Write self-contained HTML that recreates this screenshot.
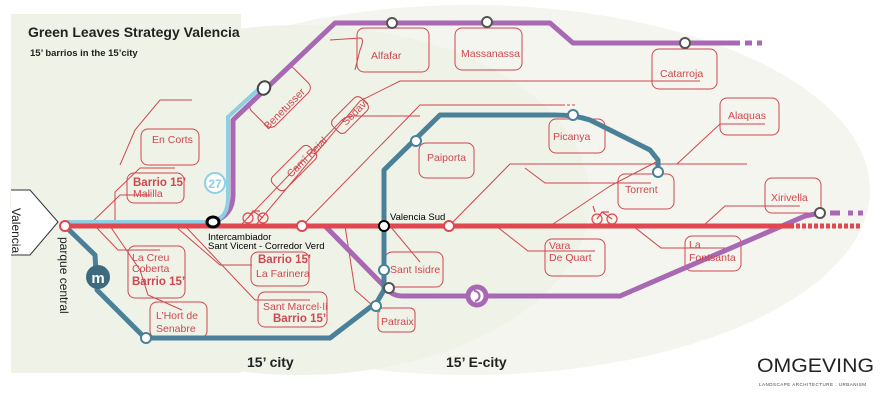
<!DOCTYPE html>
<html><head><meta charset="utf-8"><style>
html,body{margin:0;padding:0;background:#fff;}
svg{display:block;font-family:"Liberation Sans",sans-serif;}
.t{fill:#d0474f;font-size:10.5px;}
.b{fill:#d0474f;font-size:11.5px;font-weight:bold;}
.r{fill:none;stroke:#d0474f;stroke-width:1;}
</style></head><body>
<svg width="889" height="400" viewBox="0 0 889 400">
<ellipse cx="470" cy="190" rx="400" ry="185" fill="#f3f5ee"/>
<ellipse cx="300" cy="200" rx="290" ry="175" fill="#eef2e7"/>
<rect x="11" y="14" width="230" height="359" fill="#eef2e7"/>
<text x="28" y="37" font-size="14" font-weight="bold" fill="#222">Green Leaves Strategy Valencia</text>
<text x="30" y="56" font-size="9.5" font-weight="bold" fill="#222">15’ barrios in the 15’city</text>

<g class="r">
<path d="M302 226 L420 105 L565 105"/><path d="M567 105 L575 105" stroke-dasharray="3 2"/>
<path d="M449 226 L510 164 L747 164"/>
<path d="M240 226 L340 122 Q345 116 355 116 L420 116"/>
<path d="M255 226 L360 101 L400 81 L640 81 L700 81"/>
<path d="M330 40 L360 38 Q365 38 360 50 L355 70"/>
<path d="M550 226 L610 186 L660 160"/>
<path d="M525 168 L545 183 L651 183"/>
<path d="M677 164 L720 124 L765 124"/>
<path d="M496 226 L528 251 L595 251"/>
<path d="M633 226 L661 248 L730 248"/>
<path d="M703 226 L725 206 L800 206"/>
<path d="M88 226 L120 195 L150 195"/><path d="M115 226 L115 192 L140 168 L175 168"/><path d="M120 165 L135 130 L160 100 L192 100"/><path d="M165 100 L192 100" stroke-dasharray="3 2"/>
<path d="M95 226 L118 250 L160 250"/><path d="M110 226 L140 270 L148 295 L182 310"/>
<path d="M185 226 L255 300 L310 300"/><path d="M175 226 L220 265 L252 265"/>
<path d="M345 226 L355 290 L380 312"/>
<path d="M390 226 L420 262"/>
</g>
<g class="r">
<rect x="357" y="28" width="72" height="44" rx="7"/><rect x="455" y="28" width="67" height="42" rx="7"/>
<rect x="652" y="49" width="65" height="40" rx="7"/><rect x="720" y="98" width="59" height="37" rx="7"/>
<rect x="549" y="119" width="56" height="34" rx="7"/><rect x="618" y="174" width="56" height="35" rx="7"/>
<rect x="765" y="178" width="56" height="35" rx="7"/><rect x="419" y="143" width="55" height="35" rx="7"/>
<rect x="545" y="239" width="60" height="37" rx="7"/><rect x="685" y="236" width="56" height="35" rx="7"/>
<rect x="141" y="129" width="58" height="36" rx="7"/><rect x="127" y="173" width="57" height="30" rx="7"/>
<rect x="128" y="246" width="57" height="52" rx="7"/><rect x="150" y="302" width="57" height="36" rx="7"/>
<rect x="251" y="252" width="58" height="34" rx="7"/><rect x="258" y="292" width="69" height="35" rx="7"/>
<rect x="385" y="252" width="58" height="35" rx="7"/><rect x="378" y="308" width="37" height="24" rx="5"/>
<rect x="250" y="80" width="60" height="34" rx="7" transform="rotate(-45 280 97)"/>
<rect x="330" y="106" width="40" height="18" rx="5" transform="rotate(-45 350 115)"/>
<rect x="268" y="159" width="52" height="18" rx="5" transform="rotate(-45 294 168)"/>
</g>

<path d="M65 226 L325 226 L385 287 Q392 296 402 296 L620 296 L805 216 L820 213" fill="none" stroke="#a868b4" stroke-width="5"/>
<path d="M830 213 L840 213 M848 213 L853 213 M858 213 L863 213" stroke="#a868b4" stroke-width="5"/>
<path d="M213 222 Q233 215 233 195 L233 120 L335 23 L550 23 L573 43 L740 43" fill="none" stroke="#a868b4" stroke-width="5" stroke-linejoin="round"/>
<path d="M745 43 L752 43 M757 43 L762 43" stroke="#a868b4" stroke-width="5"/>
<path d="M65 222 L210 222 Q227 220 228 200 L228 117 L262 86" fill="none" stroke="#8fcfe3" stroke-width="4"/>
<path d="M65 226 L790 226" stroke="#e0474f" stroke-width="5"/>
<path d="M790 226 L862 226" stroke="#e0474f" stroke-width="5" stroke-dasharray="4 2"/>
<path d="M65 226 L95 255 L97 290 L145 338 L330 338 L377 302 L384 290 L384 170 L440 115 L555 115 Q575 115 590 120 L650 150 L658 160 L658 172" fill="none" stroke="#4a8199" stroke-width="5" stroke-linejoin="round"/>

<g stroke-width="2" fill="#fff">
<circle cx="65" cy="226" r="5" stroke="#e0474f"/><circle cx="302" cy="226" r="5" stroke="#e0474f"/><circle cx="449" cy="226" r="5" stroke="#e0474f"/>
<circle cx="384" cy="226" r="5" stroke="#000"/><ellipse cx="213" cy="222" rx="6" ry="5" stroke="#000" stroke-width="3"/>
<circle cx="146" cy="338" r="5" stroke="#4a8199"/><circle cx="376" cy="306" r="5" stroke="#4a8199"/><circle cx="384" cy="270" r="5" stroke="#4a8199"/>
<circle cx="416" cy="141" r="5" stroke="#4a8199"/><circle cx="573" cy="115" r="5" stroke="#4a8199"/><circle cx="658" cy="172" r="5" stroke="#4a8199"/>
<circle cx="389" cy="288" r="5" stroke="#555"/><circle cx="392" cy="23" r="5" stroke="#555"/><circle cx="487" cy="22" r="5" stroke="#555"/>
<circle cx="685" cy="43" r="5" stroke="#555"/><circle cx="820" cy="213" r="5" stroke="#555"/>
<ellipse cx="264" cy="88" rx="6" ry="7" stroke="#444" transform="rotate(30 264 88)"/>
<circle cx="477" cy="296" r="9" stroke="#a868b4" stroke-width="5"/>
</g>
<path d="M474 291 A5 5 0 1 1 475 301" fill="none" stroke="#a868b4" stroke-width="2"/>
<circle cx="215" cy="183" r="10" fill="#fff" stroke="#8fcfe3" stroke-width="2"/>
<text x="215" y="188" font-size="12" font-weight="bold" fill="#8fcfe3" text-anchor="middle">27</text>
<circle cx="98" cy="277" r="12" fill="#3e6a80"/>
<text x="98" y="283" font-size="15" font-weight="bold" fill="#fff" text-anchor="middle">m</text>
<g fill="none" stroke="#e0474f" stroke-width="1.2"><circle cx="248" cy="218" r="5"/><circle cx="263" cy="218" r="5"/><path d="M248 218 L253 211 L263 218 M253 211 L260 211"/>
<circle cx="597" cy="219" r="5"/><circle cx="612" cy="219" r="5"/><path d="M597 219 L602 212 L612 219 M602 212 L609 212 M593 206 L595 212"/></g>

<path d="M11 190 L30 190 L58 222 L30 255 L11 255" fill="#fff" stroke="#333" stroke-width="1"/>
<text transform="translate(12,208) rotate(90)" font-size="12" fill="#222">Valencia</text>
<text transform="translate(60,237) rotate(90)" font-size="12" fill="#222">parque central</text>

<g class="t">
<text x="371" y="59">Alfafar</text><text x="461" y="57">Massanassa</text><text x="660" y="77">Catarroja</text>
<text x="728" y="119">Alaquas</text><text x="553" y="140">Picanya</text><text x="625" y="193">Torrent</text>
<text x="771" y="201">Xirivella</text><text x="427" y="161">Paiporta</text>
<text x="549" y="249">Vara</text><text x="549" y="261">De Quart</text>
<text x="689" y="248">La</text><text x="689" y="261">Fontsanta</text>
<text x="152" y="143">En Corts</text><text x="133" y="197">Malilla</text>
<text x="132" y="261">La Creu</text><text x="132" y="272">Coberta</text>
<text x="156" y="319">L’Hort de</text><text x="156" y="332">Senabre</text>
<text x="256" y="277">La Farinera</text><text x="263" y="310">Sant Marcel·lí</text>
<text x="390" y="273">Sant Isidre</text><text x="381" y="325">Patraix</text>
<text transform="translate(268,130) rotate(-45)">Benetusser</text>
<text transform="translate(346,126) rotate(-45)">Sedaví</text>
<text transform="translate(291,178) rotate(-45)">Camí Reial</text>
</g>
<g class="b">
<text x="133" y="186">Barrio 15’</text><text x="132" y="285">Barrio 15’</text>
<text x="258" y="263">Barrio 15’</text><text x="273" y="322">Barrio 15’</text>
</g>
<text x="390" y="220" font-size="9.5" fill="#000">Valencia Sud</text>
<text x="208" y="240" font-size="9.5" fill="#000">Intercambiador</text>
<text x="208" y="249" font-size="9.5" fill="#000">Sant Vicent - Corredor Verd</text>
<text x="247" y="367" font-size="14" font-weight="bold" fill="#222">15’ city</text>
<text x="446" y="367" font-size="14" font-weight="bold" fill="#222">15’ E-city</text>
<text x="757" y="372" font-size="19" fill="#222" textLength="117" lengthAdjust="spacingAndGlyphs">OMGEVING</text>
<text x="759" y="386" font-size="4.5" fill="#444" letter-spacing="0.5">LANDSCAPE ARCHITECTURE . URBANISM</text>
</svg>
</body></html>
